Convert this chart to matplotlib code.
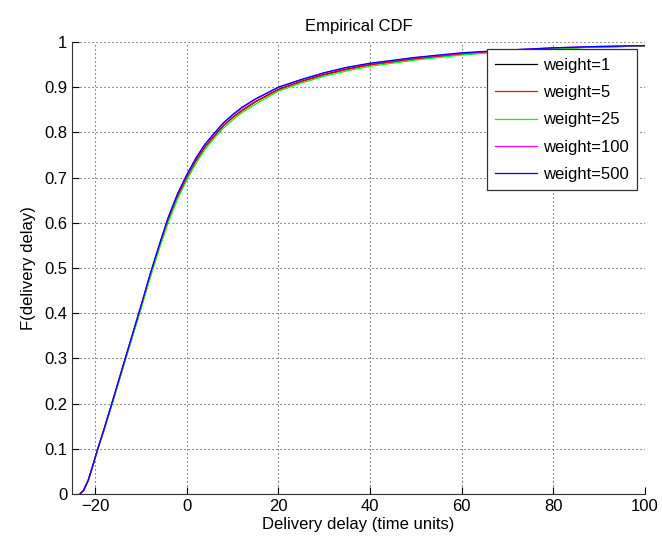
import matplotlib
matplotlib.use("Agg")
import matplotlib.pyplot as plt

plt.rcParams['font.family'] = ['Liberation Sans', 'DejaVu Sans']

x_vals = [-23.3, -22.5, -21.5, -20.5, -19.4, -18, -16, -14, -12, -10, -8, -6, -4, -2, 0,
          2, 4, 6, 8, 10, 12, 15, 20, 25, 30, 35, 40, 50, 60, 70, 80, 90, 100]

y_w1 = [0, 0.008, 0.03, 0.062, 0.10, 0.144, 0.21, 0.278, 0.345, 0.412, 0.481, 0.546, 0.607, 0.658, 0.70,
        0.737, 0.768, 0.792, 0.815, 0.833, 0.848, 0.868, 0.895, 0.913, 0.928, 0.94, 0.95, 0.963, 0.973, 0.980, 0.986, 0.989, 0.991]
y_w5 = [0, 0.008, 0.03, 0.062, 0.10, 0.143, 0.209, 0.277, 0.344, 0.411, 0.48, 0.545, 0.606, 0.657, 0.699,
        0.736, 0.767, 0.791, 0.814, 0.832, 0.847, 0.867, 0.894, 0.912, 0.927, 0.939, 0.949, 0.962, 0.973, 0.980, 0.986, 0.989, 0.991]
y_w25 = [0, 0.008, 0.029, 0.061, 0.099, 0.142, 0.208, 0.275, 0.342, 0.409, 0.477, 0.541, 0.601, 0.652, 0.694,
         0.731, 0.762, 0.787, 0.809, 0.827, 0.843, 0.862, 0.891, 0.909, 0.924, 0.936, 0.946, 0.96, 0.971, 0.979, 0.985, 0.989, 0.991]
y_w100 = [0, 0.008, 0.03, 0.063, 0.10, 0.145, 0.212, 0.28, 0.348, 0.415, 0.485, 0.55, 0.612, 0.663, 0.705,
          0.742, 0.773, 0.797, 0.82, 0.838, 0.853, 0.873, 0.899, 0.916, 0.931, 0.943, 0.952, 0.965, 0.975, 0.982, 0.987, 0.99, 0.992]
y_w500 = [0, 0.008, 0.03, 0.063, 0.10, 0.145, 0.212, 0.28, 0.348, 0.416, 0.486, 0.551, 0.613, 0.664, 0.706,
          0.743, 0.774, 0.798, 0.821, 0.839, 0.855, 0.874, 0.900, 0.917, 0.932, 0.944, 0.953, 0.966, 0.976, 0.982, 0.987, 0.99, 0.992]

labels = ['weight=1', 'weight=5', 'weight=25', 'weight=100', 'weight=500']
colors = ['black', 'red', '#00ff00', 'magenta', 'blue']
series = [y_w1, y_w5, y_w25, y_w100, y_w500]

x_ticks = [-20, 0, 20, 40, 60, 80, 100]
y_ticks = [0, 0.1, 0.2, 0.3, 0.4, 0.5, 0.6, 0.7, 0.8, 0.9, 1]

fig = plt.figure(figsize=(6.62, 5.42), dpi=100)
ax = fig.add_axes([0.109, 0.0886, 0.865, 0.834])

for ys, c, lab in zip(series, colors, labels):
    ax.plot(x_vals, ys, color=c, lw=0.9, label=lab)

ax.set_xlim(-25, 100)
ax.set_ylim(0, 1)
ax.set_xticks(x_ticks)
ax.set_yticks(y_ticks)
ax.set_yticklabels(['0', '0.1', '0.2', '0.3', '0.4', '0.5', '0.6', '0.7', '0.8', '0.9', '1'])
ax.grid(True, linestyle=(0, (1, 2.6)), color='#404040', lw=0.8)
ax.tick_params(direction='in', labelsize=12, length=5, width=0.8, top=False, right=False)
ax.spines['top'].set_visible(False)
ax.spines['right'].set_visible(False)
ax.spines['left'].set_color('#333333')
ax.spines['bottom'].set_color('#333333')
ax.set_xlabel('Delivery delay (time units)', fontsize=12, labelpad=2)
ax.set_ylabel('F(delivery delay)', fontsize=12, labelpad=6)
ax.set_title('Empirical CDF', fontsize=12, pad=8)

leg = ax.legend(loc='upper right', fontsize=12, fancybox=False, framealpha=1,
                edgecolor='#333333', handlelength=2.5, borderaxespad=0.45,
                labelspacing=0.74, handletextpad=0.4, borderpad=0.5)
leg.get_frame().set_linewidth(0.9)

fig.savefig('out.png', dpi=100)
